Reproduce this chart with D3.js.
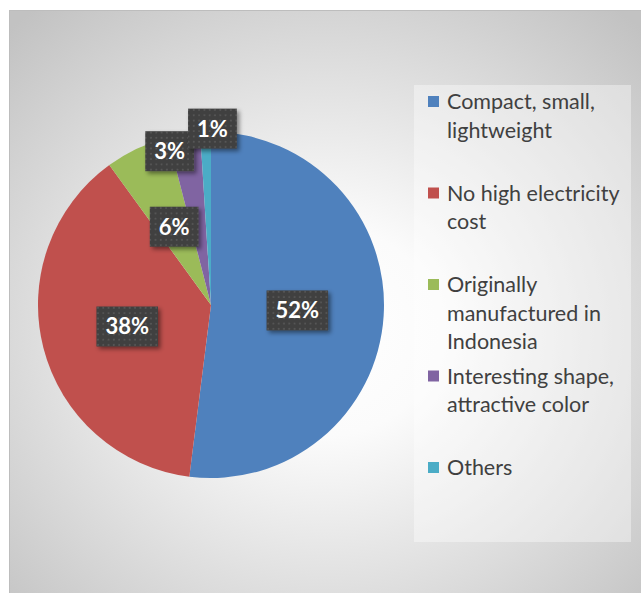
<!DOCTYPE html>
<html>
<head>
<meta charset="utf-8">
<script src="https://cdn.jsdelivr.net/npm/d3@7"></script>
<style>
  html, body { margin: 0; padding: 0; background: #ffffff; }
  svg { display: block; }
</style>
</head>
<body>
<svg id="chart" width="641" height="593"></svg>
<script>
// ---- data ----
const categories = [
  "Compact, small, lightweight",
  "No high electricity cost",
  "Originally manufactured in Indonesia",
  "Interesting shape, attractive color",
  "Others"
];
const legendLines = [
  ["Compact, small,", "lightweight"],
  ["No high electricity", "cost"],
  ["Originally", "manufactured in", "Indonesia"],
  ["Interesting shape,", "attractive color"],
  ["Others"]
];
const values = [52, 38, 6, 3, 1];
const labelTexts = ["52%", "38%", "6%", "3%", "1%"];
const colors = ["#4f81bd", "#c0504d", "#9bbb59", "#8064a2", "#4bacc6"];

// ---- layout ----
const W = 641, H = 593;
const svg = d3.select("#chart");
const defs = svg.append("defs");

const bg = defs.append("radialGradient").attr("id", "bgGrad")
  .attr("cx", "0.5").attr("cy", "0.55").attr("r", "0.72");
bg.append("stop").attr("offset", "0").attr("stop-color", "#ffffff");
bg.append("stop").attr("offset", "0.25").attr("stop-color", "#fbfbfb");
bg.append("stop").attr("offset", "1").attr("stop-color", "#c2c2c2");

const pat = defs.append("pattern").attr("id", "dots")
  .attr("patternUnits", "userSpaceOnUse").attr("width", 5.3).attr("height", 5.3);
pat.append("rect").attr("width", 5.3).attr("height", 5.3).attr("fill", "#3f3f3f");
pat.append("rect").attr("x", 1.6).attr("y", 1.6).attr("width", 1.8).attr("height", 1.8).attr("fill", "#575757");

const sh = defs.append("filter").attr("id", "shadow")
  .attr("x", "-30%").attr("y", "-30%").attr("width", "160%").attr("height", "160%");
sh.append("feDropShadow").attr("dx", 2.5).attr("dy", 2.5).attr("stdDeviation", 2)
  .attr("flood-color", "#000").attr("flood-opacity", 0.45);

// chart area
svg.append("rect").attr("x", 9.5).attr("y", 10.5).attr("width", W - 9).attr("height", H - 10)
  .attr("fill", "url(#bgGrad)").attr("stroke", "#bdbdbd").attr("stroke-width", 1);

// pie
const cx = 211, cy = 305, R = 173;
const pie = d3.pie().sort(null).value(d => d);
const arcs = pie(values);
const arc = d3.arc().innerRadius(0).outerRadius(R);
const g = svg.append("g").attr("transform", `translate(${cx},${cy})`);
g.selectAll("path").data(arcs).join("path")
  .attr("d", arc)
  .attr("fill", (d, i) => colors[i]);

// data labels
const labelRadius = [0.5, 0.5, 0.5, 0.9, 1.02];
const labelShiftX = [0, 0, 0, -17, 7];
const lab = g.selectAll("g.lab").data(arcs).join("g").attr("class", "lab")
  .attr("transform", (d, i) => {
    const a = (d.startAngle + d.endAngle) / 2;
    const r = R * labelRadius[i];
    return `translate(${r * Math.sin(a) + labelShiftX[i]},${-r * Math.cos(a)})`;
  });
lab.each(function (d, i) {
  const s = d3.select(this);
  const t = s.append("text")
    .attr("text-anchor", "middle").attr("dy", "0.36em")
    .attr("font-family", "Lato, 'Open Sans', sans-serif").attr("font-weight", "bold")
    .attr("font-size", 22).attr("fill", "#ffffff").text(labelTexts[i]);
  const w = t.node().getComputedTextLength() + 18;
  s.insert("rect", "text").attr("x", -w / 2).attr("y", -20).attr("width", w).attr("height", 40)
    .attr("fill", "url(#dots)").attr("filter", "url(#shadow)");
});

// legend
svg.append("rect").attr("x", 414).attr("y", 85).attr("width", 217).attr("height", 457)
  .attr("fill", "#ffffff").attr("fill-opacity", 0.38);
const leg = svg.append("g");
const legItems = leg.selectAll("g").data(categories).join("g")
  .attr("transform", (d, i) => `translate(0,${109 + i * 91.5})`);
legItems.append("rect").attr("x", 428).attr("y", -13).attr("width", 11).attr("height", 11)
  .attr("fill", (d, i) => colors[i]);
legItems.append("text")
  .attr("font-family", "Lato, 'Open Sans', sans-serif").attr("font-size", 21.5).attr("fill", "#404040")
  .selectAll("tspan").data((d, i) => legendLines[i]).join("tspan")
  .attr("x", 447).attr("y", (d, j) => j * 28.5).text(d => d);
</script>
</body>
</html>
